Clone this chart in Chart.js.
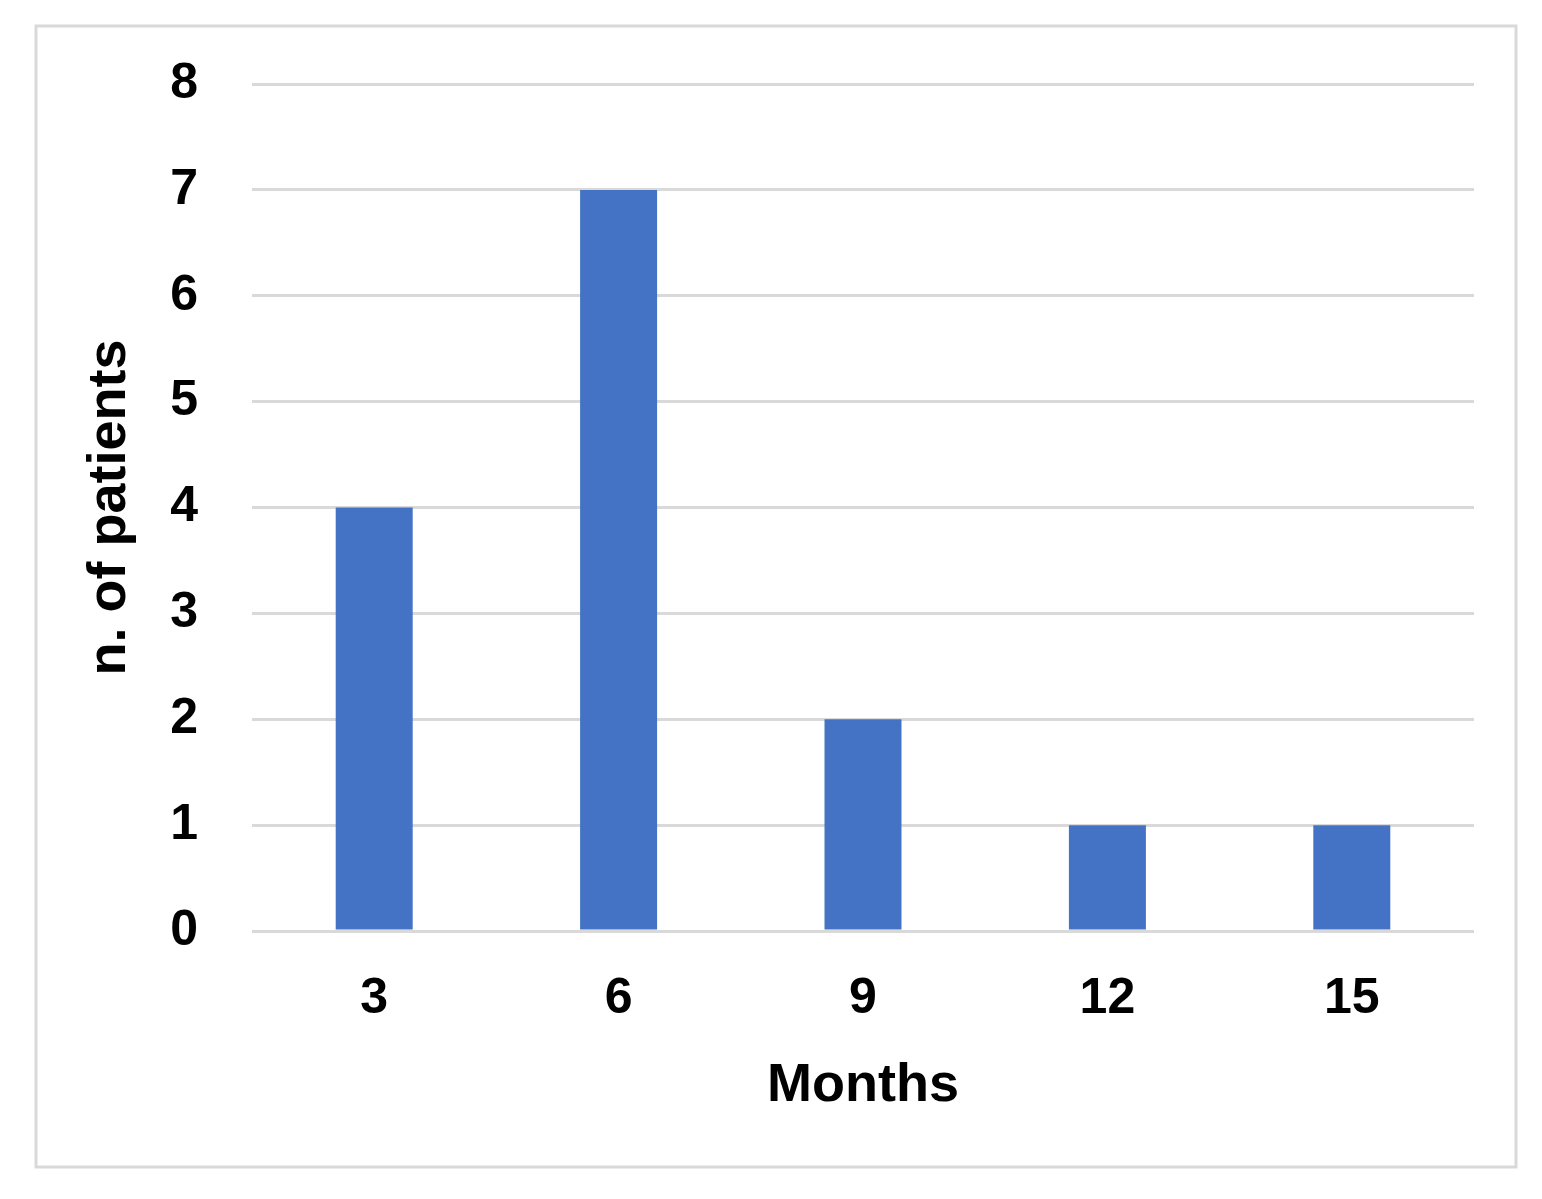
<!DOCTYPE html>
<html>
<head>
<meta charset="utf-8">
<script src="https://cdn.jsdelivr.net/npm/chart.js@4"></script>
<style>
  html, body { margin: 0; padding: 0; background: #fff; }
  #wrap { width: 1542px; height: 1199px; position: relative; }
</style>
</head>
<body>
<div id="wrap"><canvas id="chart"></canvas></div>
<script>
const months = ['3', '6', '9', '12', '15'];
const patients = [4, 7, 2, 1, 1];

const frame = {
    id: 'frame',
    beforeDraw(chart) {
        const c = chart.ctx;
        c.save();
        c.fillStyle = '#fff';
        c.fillRect(0, 0, chart.width, chart.height);
        c.strokeStyle = '#d9d9d9';
        c.lineWidth = 3;
        c.strokeRect(36, 26, 1480, 1141);
        c.restore();
    }
};

const font = { family: '"Liberation Sans", Arial, sans-serif', weight: 'bold', size: 50 };

new Chart(document.getElementById('chart'), {
    type: 'bar',
    data: {
        labels: months,
        datasets: [{
            data: patients,
            backgroundColor: '#4472c4',
            barPercentage: 0.63,
            categoryPercentage: 0.5
        }]
    },
    options: {
        responsive: true,
        maintainAspectRatio: false,
        animation: false,
        devicePixelRatio: 1,
        layout: { padding: { left: 78, right: 68, top: 77, bottom: 80 } },
        plugins: { legend: { display: false }, tooltip: { enabled: false } },
        scales: {
            x: {
                grid: { display: false },
                border: { display: false },
                ticks: { color: '#000', font: font, padding: 30 },
                title: { display: true, text: 'Months', color: '#000', font: { ...font, size: 54 }, padding: 0 },
                afterFit(s) { s.height = 188; }
            },
            y: {
                min: 0, max: 8,
                grid: { color: '#d9d9d9', lineWidth: 3, drawTicks: false },
                border: { display: false },
                ticks: { stepSize: 1, color: '#000', font: font, padding: 54 },
                title: { display: true, text: 'n. of patients', color: '#000', font: { ...font, size: 54 }, padding: 0 },
                afterFit(s) { s.width = 252 - 78; }
            }
        }
    },
    plugins: [frame]
});
</script>
</body>
</html>
